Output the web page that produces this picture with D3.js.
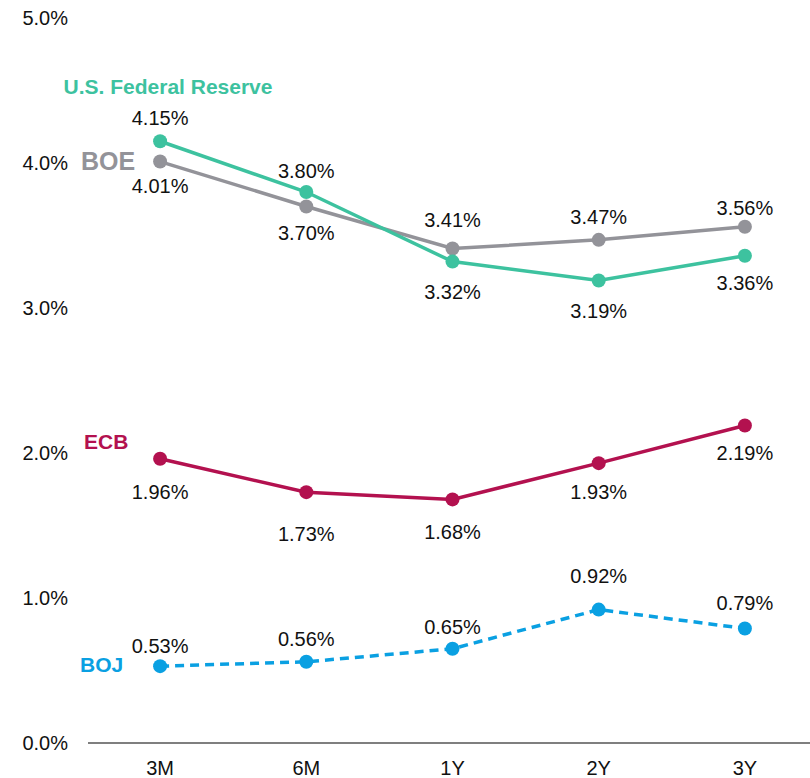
<!DOCTYPE html>
<html>
<head>
<meta charset="utf-8">
<script src="https://cdn.jsdelivr.net/npm/d3@7"></script>
<style>
  body { margin: 0; background: #fff; }
  svg { font-family: "Liberation Sans", Arial, sans-serif; }
</style>
</head>
<body>
<div id="chart"></div>
<script>
// Data
const tenors = ['3M', '6M', '1Y', '2Y', '3Y'];
const fedValues = [4.15, 3.80, 3.32, 3.19, 3.36];
const boeValues = [4.01, 3.70, 3.41, 3.47, 3.56];
const ecbValues = [1.96, 1.73, 1.68, 1.93, 2.19];
const bojValues = [0.53, 0.56, 0.65, 0.92, 0.79];
const yTicks = [0, 1, 2, 3, 4, 5];

// label shift from the point, px (negative = above)
const fedDy = [-23, -21, 30, 31, 27];
const boeDy = [24, 26, -29, -23, -19];
const ecbDy = [33, 42, 33, 29, 28];
const bojDy = [-20, -23, -22, -34, -25];

const series = [
    { name: 'BOE', values: boeValues, dy: boeDy, color: '#939399', dash: null },
    { name: 'U.S. Federal Reserve', values: fedValues, dy: fedDy, color: '#3dc29f', dash: null },
    { name: 'ECB', values: ecbValues, dy: ecbDy, color: '#b3114f', dash: null },
    { name: 'BOJ', values: bojValues, dy: bojDy, color: '#0aa0e2', dash: '9,6' }
];

const w = 810;
const h = 778;
const fs = '20px';
const fsBold = '21px';

const svg = d3.select('#chart')
    .append('svg')
    .attr('width', w)
    .attr('height', h);

// Scales
const xScale = d3.scaleBand()
    .domain(tenors)
    .range([87, 818]);

const yScale = d3.scaleLinear()
    .domain([0, 5])
    .range([743, 18]);

const cx = (i) => xScale(tenors[i]) + xScale.bandwidth() / 2;

// Y labels (no axis line)
svg.append('g')
    .selectAll('text')
    .data(yTicks)
    .enter()
    .append('text')
    .attr('x', 68)
    .attr('y', (d) => yScale(d) + 7)
    .attr('text-anchor', 'end')
    .style('font-size', fs)
    .attr('fill', '#111')
    .text((d) => d.toFixed(1) + '%');

// X axis
const xAxis = d3.axisBottom(xScale).tickSize(0).tickPadding(18);
const gx = svg.append('g')
    .attr('transform', `translate(0, ${yScale(0)})`)
    .call(xAxis);
gx.select('.domain').attr('stroke', '#555').attr('stroke-width', 1.5).attr('d', 'M88,0H810');
gx.selectAll('text').style('font-size', fs).attr('fill', '#111')
    .style('font-family', '"Liberation Sans", Arial, sans-serif');

// Lines
const line = d3.line()
    .x((d, i) => cx(i))
    .y((d) => yScale(d));

series.forEach((s) => {
    svg.append('path')
        .datum(s.values)
        .attr('d', line)
        .attr('fill', 'none')
        .attr('stroke', s.color)
        .attr('stroke-width', 3.5)
        .attr('stroke-dasharray', s.dash);

    svg.selectAll(null)
        .data(s.values)
        .enter()
        .append('circle')
        .attr('cx', (d, i) => cx(i))
        .attr('cy', (d) => yScale(d))
        .attr('r', 7)
        .attr('fill', s.color);

    svg.selectAll(null)
        .data(s.values)
        .enter()
        .append('text')
        .attr('x', (d, i) => cx(i))
        .attr('y', (d, i) => yScale(d) + s.dy[i] + 7)
        .attr('text-anchor', 'middle')
        .style('font-size', fs)
        .attr('fill', '#111')
        .text((d) => d.toFixed(2) + '%');
});

// Series names
svg.append('text').attr('x', 168).attr('y', 94).attr('text-anchor', 'middle')
    .style('font-size', fsBold).style('font-weight', 'bold').attr('fill', '#3dc29f')
    .text('U.S. Federal Reserve');
svg.append('text').attr('x', 81).attr('y', 170)
    .style('font-size', '25px').style('font-weight', 'bold').attr('fill', '#939399')
    .text('BOE');
svg.append('text').attr('x', 84).attr('y', 449)
    .style('font-size', fsBold).style('font-weight', 'bold').attr('fill', '#b3114f')
    .text('ECB');
svg.append('text').attr('x', 80).attr('y', 672)
    .style('font-size', fsBold).style('font-weight', 'bold').attr('fill', '#0aa0e2')
    .text('BOJ');
</script>
</body>
</html>
